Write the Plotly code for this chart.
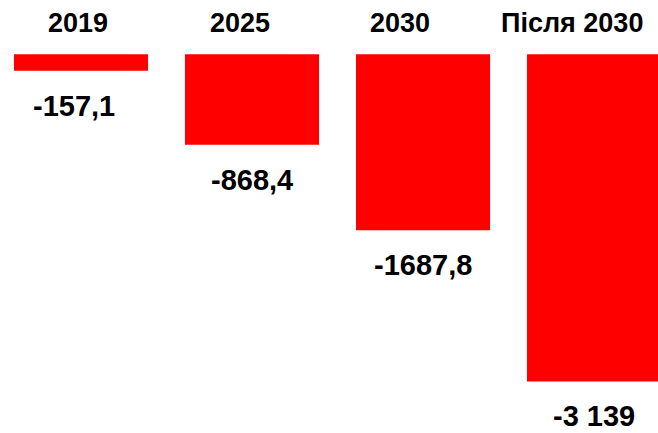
import plotly.graph_objects as go

categories = ["2019", "2025", "2030", "Після 2030"]
values = [-157.1, -868.4, -1687.8, -3139]
value_labels = ["-157,1", "-868,4", "-1687,8", "-3 139"]

header_shift = [-3, -12, -23, -22]
label_shift = [-7, 0, 0, 0]

fig = go.Figure()
idx = list(range(len(categories)))
fig.add_trace(go.Bar(
    x=idx, y=values,
    marker=dict(color="#FF0000", line=dict(width=0)),
    width=0.784,
    hoverinfo="skip",
))

font = dict(family="Liberation Sans, Arial, sans-serif", color="#000000")
for i, c in enumerate(categories):
    fig.add_annotation(x=i, y=0.947, xref="x", yref="paper", text=f"<b>{c}</b>",
                       showarrow=False, xshift=header_shift[i], yanchor="middle",
                       font=dict(size=27, **font))
    fig.add_annotation(x=i, y=values[i], xref="x", yref="y", text=f"<b>{value_labels[i]}</b>",
                       showarrow=False, xshift=label_shift[i], yanchor="top", yshift=-17,
                       font=dict(size=29, **font))

fig.update_layout(
    width=658, height=433,
    margin=dict(l=0, r=0, t=0, b=0),
    paper_bgcolor="white", plot_bgcolor="white",
    showlegend=False,
    xaxis=dict(range=[-0.4737, 3.374], visible=False, fixedrange=True),
    yaxis=dict(range=[-3634, 521], visible=False, fixedrange=True),
)
fig.write_html("out.html", config={"displayModeBar": False})
